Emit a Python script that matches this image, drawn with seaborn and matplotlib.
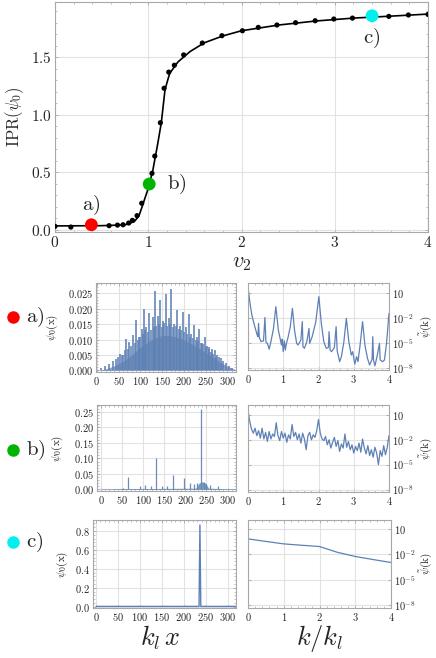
import numpy as np
import matplotlib
matplotlib.use("Agg")
import matplotlib.pyplot as plt
from matplotlib.lines import Line2D
from matplotlib.ticker import FixedLocator, FuncFormatter, AutoMinorLocator, NullFormatter
import seaborn as sns

# ---- data ----
# main panel: IPR vs v2
ipr_v2 = [0.0, 0.17, 0.58, 0.67, 0.73, 0.79, 0.83, 0.88, 0.93, 1.04, 1.07, 1.13, 1.17,
          1.22, 1.28, 1.38, 1.58, 1.79, 2.01, 2.18, 2.38, 2.58, 2.79, 2.99, 3.19, 3.58, 3.79, 4.0]
ipr_vals = [0.029, 0.023, 0.035, 0.040, 0.043, 0.058, 0.081, 0.122, 0.23, 0.49, 0.64, 0.93, 1.23,
            1.37, 1.43, 1.52, 1.623, 1.687, 1.73, 1.759, 1.78, 1.80, 1.817, 1.832, 1.84, 1.855, 1.867, 1.872]
fit_v2 = [0.0, 0.5, 0.75, 0.85, 0.9, 0.93, 1.0, 1.05, 1.1, 1.14, 1.18, 1.23, 1.32, 1.45,
          1.6, 1.8, 2.0, 2.4, 2.8, 3.2, 3.6, 4.0]
fit_vals = [0.033, 0.035, 0.042, 0.07, 0.12, 0.19, 0.36, 0.52, 0.74, 0.93, 1.22, 1.36, 1.46, 1.55,
            1.625, 1.685, 1.73, 1.78, 1.815, 1.84, 1.857, 1.875]
case_labels = ["a)", "b)", "c)"]
case_v2 = [0.39, 1.01, 3.4]
case_ipr = [0.043, 0.397, 1.86]
case_colors = ["#ff0000", "#00b400", "#00f0f0"]

# panel a, psi_0(x): dense body envelope + spikes
a_env_x = [0, 20, 40, 60, 80, 100, 120, 140, 160, 180, 200, 220, 240, 260, 280, 300, 318]
a_env_y = [0, 0.0005, 0.0015, 0.003, 0.005, 0.0075, 0.0095, 0.011, 0.0115, 0.011, 0.0100,
           0.0085, 0.0068, 0.005, 0.003, 0.0014, 0.0003]
a_spike_x = [10, 18, 28, 36, 44, 54, 61, 67, 75, 83, 91, 97, 103, 108, 114, 120, 128, 133, 141, 146,
             152, 158, 165, 171, 178, 184, 191, 197, 204, 212, 217, 223, 230, 236, 242, 248, 254, 259,
             265, 271, 276, 281, 286, 290, 296, 303, 310]
a_spike_h = [.0008, .0015, .0022, .003, .0038, .0054, .005, .0101, .0092, .0116, .0163, .011, .0135,
             .0198, .014, .0185, .0174, .0259, .0178, .0228, .016, .0248, .017, .0264, .015, .0196,
             .0145, .019, .014, .0182, .012, .0147, .011, .0136, .009, .0109, .008, .0076, .007,
             .0066, .005, .0045, .004, .003, .0025, .0015, .0008]
a_mid_x = [48, 58, 64, 71, 79, 87, 94, 100, 106, 111, 117, 124, 131, 137, 143, 149, 155, 162, 168,
           175, 181, 188, 194, 201, 208, 214, 220, 227, 233, 239, 245, 251, 257, 262, 268, 274]
a_mid_h = [.0045, .005, .0065, .007, .008, .009, .010, .011, .012, .013, .0125, .013, .014, .0145,
           .015, .014, .0155, .0145, .015, .014, .0145, .0135, .013, .0125, .012, .011, .0105, .010,
           .0095, .009, .0085, .0075, .007, .006, .0055, .0045]

# panel b, psi_0(x)
b_env_x = [0, 60, 120, 225, 232, 240, 248, 255, 318]
b_env_y = [0.002, 0.003, 0.003, 0.004, 0.02, 0.025, 0.02, 0.004, 0.002]
b_spike_x = [51, 65, 92, 105, 118, 130, 144, 156, 171, 197, 212, 221, 227, 236, 244, 250, 259, 277]
b_spike_h = [.005, .039, .01, .015, .01, .100, .01, .012, .045, .036, .021, .019, .02, .258, .025,
             .017, .015, .01]

# panel c, psi_0(x)
c_x = [0, 234, 236, 238, 318]
c_y = [0.003, 0.003, 0.864, 0.003, 0.003]

# spectra, log10 of psi~(k)
a_k = [0.0, 0.06, 0.11, 0.18, 0.26, 0.28, 0.30, 0.32, 0.37, 0.44, 0.48, 0.51, 0.55, 0.60, 0.65,
       0.72, 0.79, 0.86, 0.92, 0.95, 0.97, 1.0, 1.03, 1.06, 1.09, 1.13, 1.2, 1.26, 1.32, 1.38, 1.42,
       1.50, 1.54, 1.56, 1.6, 1.67, 1.73, 1.75, 1.82, 1.92, 2.01, 2.08, 2.15, 2.22, 2.28, 2.30, 2.33,
       2.37, 2.45, 2.50, 2.53, 2.60, 2.65, 2.72, 2.79, 2.86, 2.93, 2.97, 3.03, 3.08, 3.12, 3.18, 3.25,
       3.32, 3.39, 3.45, 3.52, 3.54, 3.56, 3.60, 3.66, 3.73, 3.75, 3.82, 3.87, 3.93, 4.0]
a_logpsi = [1.7, -0.3, -1.6, -2.8, -4.0, -4.2, -2.6, -4.3, -4.8, -4.7, -1.9, -4.9, -5.0, -5.7, -4.8,
            -3.3, -0.6, -3.4, -4.6, -5.2, -4.5, -6.0, -4.7, -5.8, -5.0, -4.4, -3.0, -0.8, -3.4, -5.0,
            -5.2, -4.6, -2.4, -5.4, -5.6, -4.8, -3.2, -5.0, -4.2, -2.5, 0.6, -2.6, -4.8, -5.6, -5.5,
            -3.6, -5.8, -6.0, -5.5, -3.0, -5.9, -7.2, -6.6, -4.8, -2.0, -4.8, -6.4, -6.0, -7.5, -6.6,
            -7.2, -5.2, -2.4, -5.3, -6.8, -7.6, -6.9, -4.2, -7.0, -7.7, -6.6, -5.0, -7.0, -7.2, -7.0,
            -5.0, -1.4]
b_k = [round(0.05 * i, 2) for i in range(81)]
b_logpsi = [1.5, 0.2, -0.7, -1.2, -0.6, -1.5, -0.9, -1.8, -0.6, -1.9, -1.1, -2.2, -1.0, -1.9, -1.3,
            -1.6, 0.05, -1.5, -2.1, -1.0, -1.8, -1.2, -2.3, -1.4, -1.9, -0.15, -1.6, -1.1, -2.0, -1.3,
            -2.4, -1.2, -1.9, -3.2, -1.5, -1.1, -2.0, -1.4, -1.7, -0.9, 0.45, -1.2, -1.9, -2.1, -1.6,
            -2.6, -2.0, -3.0, -2.3, -1.7, -2.8, -2.1, -3.4, -2.5, -3.0, -1.3, -2.9, -2.2, -3.2, -2.6,
            -3.6, -2.8, -3.3, -2.4, -3.5, -1.9, -3.0, -3.7, -2.7, -3.9, -3.2, -4.1, -2.9, -3.6, -5.0,
            -3.3, -4.0, -2.7, -3.8, -2.9, -1.5]
c_k = [0, 0.5, 1, 1.5, 2, 2.5, 3, 3.5, 4]
c_logpsi = [-0.17, -0.47, -0.76, -0.92, -1.07, -1.75, -2.24, -2.6, -2.95]

# ---- style ----
sns.set_style("white")
plt.rcParams["mathtext.fontset"] = "cm"
plt.rcParams["font.family"] = ["DejaVu Serif"]
BLUE = "#5e81b5"
FRAME = "#a8a8a8"
GRID = "#e2e2e2"

W, H = 436, 658
fig = plt.figure(figsize=(W / 100, H / 100), dpi=100)


def px_axes(x0, y0, x1, y1):
    return fig.add_axes([x0 / W, 1 - y1 / H, (x1 - x0) / W, (y1 - y0) / H])


def mfmt(fmt):
    return FuncFormatter(lambda v, p: "$" + fmt.format(v) + "$")


def frame(ax, fs):
    for s in ax.spines.values():
        s.set_color(FRAME)
        s.set_linewidth(0.8)
    ax.tick_params(which="both", direction="in", color=FRAME, labelsize=fs, pad=2,
                   top=True, right=True, bottom=True, left=True)
    ax.tick_params(which="major", length=2.5, width=0.6)
    ax.tick_params(which="minor", length=1.5, width=0.5)
    ax.grid(True, color=GRID, lw=0.8)
    ax.set_axisbelow(True)


# ---- main panel ----
ax = px_axes(55, 2, 428, 232)
frame(ax, 11)
sns.lineplot(x=fit_v2, y=fit_vals, ax=ax, color="black", lw=1.2, sort=False)
sns.scatterplot(x=ipr_v2, y=ipr_vals, ax=ax, color="black", s=14, edgecolor="none", zorder=3)
sns.scatterplot(x=case_v2, y=case_ipr, ax=ax, hue=case_labels, palette=case_colors, s=85,
                edgecolor="none", zorder=4, legend=False)
offs = [(0, 14), (13, 0), (0, -16)]
for lab, x, y, o in zip(case_labels, case_v2, case_ipr, offs):
    ax.annotate("$\\mathrm{" + lab + "}$", (x, y), xytext=o, textcoords="offset points",
                ha="center" if o[0] == 0 else "left", va="center", fontsize=15)
ax.set_xlim(0, 4)
ax.set_ylim(-0.02, 1.98)
ax.xaxis.set_major_locator(FixedLocator([0, 1, 2, 3, 4]))
ax.yaxis.set_major_locator(FixedLocator([0, 0.5, 1.0, 1.5]))
ax.xaxis.set_minor_locator(AutoMinorLocator(5))
ax.yaxis.set_minor_locator(AutoMinorLocator(5))
ax.xaxis.set_major_formatter(mfmt("{:.0f}"))
ax.yaxis.set_major_formatter(mfmt("{:.1f}"))
ax.set_xlabel(r"$v_2$", fontsize=16, labelpad=1)
ax.set_ylabel(r"$\mathrm{IPR}(\psi_0)$", fontsize=12, labelpad=4)

# ---- lower panels ----
left_boxes = [(96, 283, 236, 372), (97, 405, 236, 491), (93, 520, 236, 608)]
right_boxes = [(248, 283, 389, 370), (248, 405, 389, 492), (248, 520, 391, 608)]
left_ylims = [(-0.0005, 0.0284), (-0.005, 0.272), (-0.014, 0.917)]
left_xlims = [(-2, 320), (-9.5, 320), (-7, 318)]
left_yticks = [[0, 0.005, 0.01, 0.015, 0.02, 0.025], [0, 0.05, 0.1, 0.15, 0.2, 0.25],
               [0, 0.2, 0.4, 0.6, 0.8]]
left_yfmt = ["{:.3f}", "{:.2f}", "{:.1f}"]
right_ylims = [(10 ** -8.2, 10 ** 2.24), (10 ** -8.3, 10 ** 2.2), (10 ** -8.3, 10 ** 2.05)]
ylab_x = [-0.26, -0.23, -0.16]
marker_y = [317, 450, 542]
spectra = [(a_k, a_logpsi), (b_k, b_logpsi), (c_k, c_logpsi)]

for i in range(3):
    axl = px_axes(*left_boxes[i])
    frame(axl, 7.5)
    if i == 0:
        axl.fill_between(a_env_x, 0, a_env_y, color=BLUE, alpha=0.75, lw=0)
        axl.vlines(a_mid_x, 0, a_mid_h, color=BLUE, lw=1.3, alpha=0.85)
        axl.vlines(a_spike_x, 0, a_spike_h, color=BLUE, lw=1.2, alpha=0.95)
    elif i == 1:
        axl.fill_between(b_env_x, 0, b_env_y, color=BLUE, alpha=0.8, lw=0)
        axl.vlines(b_spike_x, 0, b_spike_h, color=BLUE, lw=0.9, alpha=0.9)
    else:
        sns.lineplot(x=c_x, y=c_y, ax=axl, color=BLUE, lw=1.0, sort=False)
    axl.set_xlim(*left_xlims[i])
    axl.set_ylim(*left_ylims[i])
    axl.xaxis.set_major_locator(FixedLocator([0, 50, 100, 150, 200, 250, 300]))
    axl.yaxis.set_major_locator(FixedLocator(left_yticks[i]))
    axl.xaxis.set_minor_locator(AutoMinorLocator(5))
    axl.yaxis.set_minor_locator(AutoMinorLocator(5))
    axl.xaxis.set_major_formatter(mfmt("{:.0f}"))
    axl.yaxis.set_major_formatter(mfmt(left_yfmt[i]))
    axl.set_ylabel(r"$\psi_0(\mathrm{x})$", fontsize=8)
    axl.yaxis.set_label_coords(ylab_x[i], 0.5)

    axr = px_axes(*right_boxes[i])
    frame(axr, 7.5)
    kx, lg = spectra[i]
    sns.lineplot(x=kx, y=[10.0 ** v for v in lg], ax=axr, color=BLUE, lw=0.9, sort=False)
    axr.set_yscale("log")
    axr.set_xlim(0, 4)
    axr.set_ylim(*right_ylims[i])
    axr.xaxis.set_major_locator(FixedLocator([0, 1, 2, 3, 4]))
    axr.xaxis.set_minor_locator(AutoMinorLocator(5))
    axr.yaxis.set_major_locator(FixedLocator([1e1, 1e-2, 1e-5, 1e-8]))
    axr.yaxis.set_minor_formatter(NullFormatter())
    axr.yaxis.set_major_formatter(FuncFormatter(
        lambda v, p: "$10$" if v > 1 else "$10^{%d}$" % round(np.log10(v))))
    axr.xaxis.set_major_formatter(mfmt("{:.0f}"))
    axr.tick_params(axis="y", which="both", labelleft=False, labelright=True)
    yr = 1 - (right_boxes[i][1] + right_boxes[i][3]) / 2 / H
    fig.text(426 / W, yr, r"$\tilde{\psi}(\mathrm{k})$", fontsize=8, rotation=90,
             ha="center", va="center")

    yc = 1 - marker_y[i] / H
    fig.add_artist(Line2D([13 / W], [yc], marker="o", ms=9, color=case_colors[i],
                          mec="none", transform=fig.transFigure))
    fig.text(26 / W, yc, "$\\mathrm{" + case_labels[i] + "}$", fontsize=15, va="center")

fig.text(160 / W, 1 - 638 / H, r"$k_l\,x$", fontsize=19, ha="center", va="center")
fig.text(320 / W, 1 - 638 / H, r"$k/k_l$", fontsize=19, ha="center", va="center")

fig.savefig("out.png", dpi=100)
